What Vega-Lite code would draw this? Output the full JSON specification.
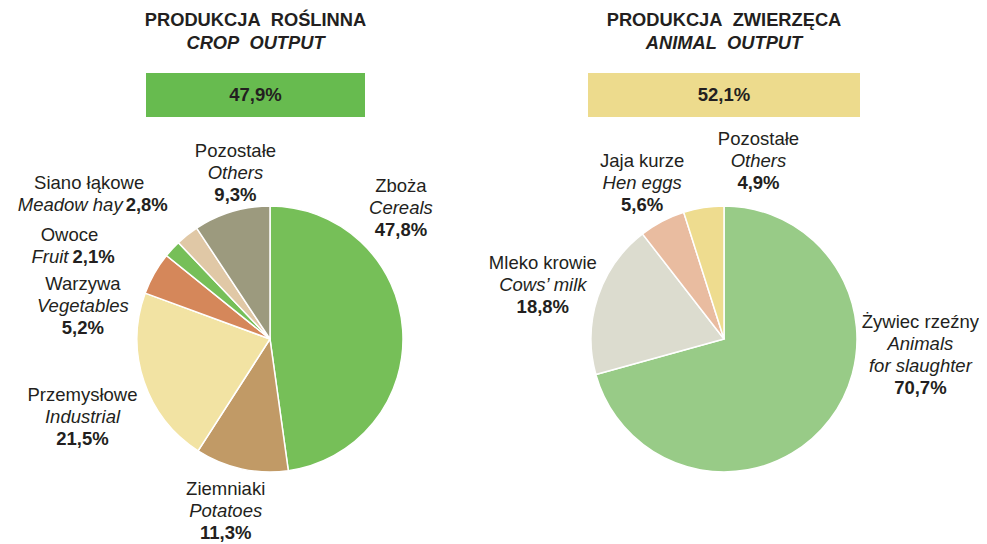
{
  "$schema": "https://vega.github.io/schema/vega-lite/v6.json",
  "padding": {"left": 17, "top": 11, "right": 0, "bottom": 4},
  "config": {
    "font": "Liberation Sans",
    "view": {"stroke": null},
    "text": {"fontSize": 18.5, "color": "#231f20"},
    "title": {"fontSize": 18.3, "fontWeight": "bold", "color": "#231f20", "font": "Liberation Sans", "subtitleFont": "Liberation Sans", "subtitleFontSize": 18.3, "subtitleFontStyle": "italic", "subtitleFontWeight": "bold", "subtitleColor": "#231f20", "subtitlePadding": 4, "anchor": "middle", "offset": 20}
  },
  "spacing": 442,
  "bounds": "flush",
  "resolve": {"scale": {"color": "independent", "theta": "independent"}},
  "hconcat": [
    {
      "spacing": 20,
      "bounds": "flush",
      "resolve": {"scale": {"color": "independent", "theta": "independent"}},
      "vconcat": [
        {
          "width": 219, "height": 44,
          "title": {"text": "PRODUKCJA\u00a0 ROŚLINNA", "subtitle": "CROP\u00a0 OUTPUT"},
          "data": {"values": [{"share": "47,9%"}]},
          "layer": [
            {"mark": {"type": "rect", "color": "#67bb4f"}, "encoding": {}},
            {"mark": {"type": "text", "fontWeight": "bold", "fontSize": 18.5}, "encoding": {"text": {"field": "share", "type": "nominal"}}}
          ]
        },
        {
          "width": 248, "height": 404,
          "data": {"values": [
            {"ord": 1, "pl": "Zboża", "en": "Cereals", "pct": "47,8%", "value": 47.8},
            {"ord": 2, "pl": "Ziemniaki", "en": "Potatoes", "pct": "11,3%", "value": 11.3},
            {"ord": 3, "pl": "Przemysłowe", "en": "Industrial", "pct": "21,5%", "value": 21.5},
            {"ord": 4, "pl": "Warzywa", "en": "Vegetables", "pct": "5,2%", "value": 5.2},
            {"ord": 5, "pl": "Owoce", "en": "Fruit", "pct": "2,1%", "value": 2.1},
            {"ord": 6, "pl": "Siano łąkowe", "en": "Meadow hay", "pct": "2,8%", "value": 2.8},
            {"ord": 7, "pl": "Pozostałe", "en": "Others", "pct": "9,3%", "value": 9.3}
          ]},
          "resolve": {"scale": {"theta": "independent"}},
          "layer": [
            {
              "mark": {"type": "arc", "outerRadius": 133, "stroke": "#ffffff", "strokeWidth": 1.5},
              "encoding": {
                "theta": {"field": "value", "type": "quantitative", "stack": true},
                "order": {"field": "ord", "type": "quantitative"},
                "color": {"field": "pl", "type": "nominal", "legend": null,
                  "scale": {"domain": ["Zboża", "Ziemniaki", "Przemysłowe", "Warzywa", "Owoce", "Siano łąkowe", "Pozostałe"],
                            "range": ["#76bf58", "#c19a66", "#f2e3a3", "#d5875a", "#76bf58", "#e0c8a6", "#9c9a7e"]}}
              }
            },
            {
              "encoding": {"theta": {"field": "value", "type": "quantitative", "stack": true, "scale": {"range": [-0.7156, 5.5676]}}, "order": {"field": "ord", "type": "quantitative"}},
              "layer": [
                {"mark": {"type": "text", "radius": 185, "dy": -22}, "encoding": {"text": {"condition": {"test": "datum.pl === 'Zboża'", "field": "pl", "type": "nominal"}, "value": ""}}},
                {"mark": {"type": "text", "radius": 185, "fontStyle": "italic"}, "encoding": {"text": {"condition": {"test": "datum.pl === 'Zboża'", "field": "en", "type": "nominal"}, "value": ""}}},
                {"mark": {"type": "text", "radius": 185, "dy": 22, "fontWeight": "bold"}, "encoding": {"text": {"condition": {"test": "datum.pl === 'Zboża'", "field": "pct", "type": "nominal"}, "value": ""}}}
              ]
            },
            {
              "encoding": {"theta": {"field": "value", "type": "quantitative", "stack": true, "scale": {"range": [0.0349, 6.3181]}}, "order": {"field": "ord", "type": "quantitative"}},
              "layer": [
                {"mark": {"type": "text", "radius": 178, "dy": -22}, "encoding": {"text": {"condition": {"test": "datum.pl === 'Ziemniaki'", "field": "pl", "type": "nominal"}, "value": ""}}},
                {"mark": {"type": "text", "radius": 178, "fontStyle": "italic"}, "encoding": {"text": {"condition": {"test": "datum.pl === 'Ziemniaki'", "field": "en", "type": "nominal"}, "value": ""}}},
                {"mark": {"type": "text", "radius": 178, "dy": 22, "fontWeight": "bold"}, "encoding": {"text": {"condition": {"test": "datum.pl === 'Ziemniaki'", "field": "pct", "type": "nominal"}, "value": ""}}}
              ]
            },
            {
              "encoding": {"theta": {"field": "value", "type": "quantitative", "stack": true, "scale": {"range": [0.0873, 6.3705]}}, "order": {"field": "ord", "type": "quantitative"}},
              "layer": [
                {"mark": {"type": "text", "radius": 170, "dy": -22}, "encoding": {"text": {"condition": {"test": "datum.pl === 'Pozostałe'", "field": "pl", "type": "nominal"}, "value": ""}}},
                {"mark": {"type": "text", "radius": 170, "fontStyle": "italic"}, "encoding": {"text": {"condition": {"test": "datum.pl === 'Pozostałe'", "field": "en", "type": "nominal"}, "value": ""}}},
                {"mark": {"type": "text", "radius": 170, "dy": 22, "fontWeight": "bold"}, "encoding": {"text": {"condition": {"test": "datum.pl === 'Pozostałe'", "field": "pct", "type": "nominal"}, "value": ""}}}
              ]
            },
            {
              "encoding": {"theta": {"field": "value", "type": "quantitative", "stack": true, "scale": {"range": [-0.0698, 6.2134]}}, "order": {"field": "ord", "type": "quantitative"}},
              "layer": [
                {"mark": {"type": "text", "radius": 203, "dy": -22}, "encoding": {"text": {"condition": {"test": "datum.pl === 'Przemysłowe'", "field": "pl", "type": "nominal"}, "value": ""}}},
                {"mark": {"type": "text", "radius": 203, "fontStyle": "italic"}, "encoding": {"text": {"condition": {"test": "datum.pl === 'Przemysłowe'", "field": "en", "type": "nominal"}, "value": ""}}},
                {"mark": {"type": "text", "radius": 203, "dy": 22, "fontWeight": "bold"}, "encoding": {"text": {"condition": {"test": "datum.pl === 'Przemysłowe'", "field": "pct", "type": "nominal"}, "value": ""}}}
              ]
            },
            {
              "encoding": {"theta": {"field": "value", "type": "quantitative", "stack": true, "scale": {"range": [-0.3403, 5.9429]}}, "order": {"field": "ord", "type": "quantitative"}},
              "layer": [
                {"mark": {"type": "text", "radius": 190, "dy": -22}, "encoding": {"text": {"condition": {"test": "datum.pl === 'Warzywa'", "field": "pl", "type": "nominal"}, "value": ""}}},
                {"mark": {"type": "text", "radius": 190, "fontStyle": "italic"}, "encoding": {"text": {"condition": {"test": "datum.pl === 'Warzywa'", "field": "en", "type": "nominal"}, "value": ""}}},
                {"mark": {"type": "text", "radius": 190, "dy": 22, "fontWeight": "bold"}, "encoding": {"text": {"condition": {"test": "datum.pl === 'Warzywa'", "field": "pct", "type": "nominal"}, "value": ""}}}
              ]
            },
            {
              "encoding": {"theta": {"field": "value", "type": "quantitative", "stack": true, "scale": {"range": [-0.3107, 5.9725]}}, "order": {"field": "ord", "type": "quantitative"}},
              "layer": [
                {"mark": {"type": "text", "radius": 221, "dy": -11}, "encoding": {"text": {"condition": {"test": "datum.pl === 'Owoce'", "field": "pl", "type": "nominal"}, "value": ""}}},
                {"mark": {"type": "text", "radius": 221, "dy": 11, "dx": -1, "align": "right", "fontStyle": "italic"}, "encoding": {"text": {"condition": {"test": "datum.pl === 'Owoce'", "field": "en", "type": "nominal"}, "value": ""}}},
                {"mark": {"type": "text", "radius": 221, "dy": 11, "dx": 3, "align": "left", "fontWeight": "bold"}, "encoding": {"text": {"condition": {"test": "datum.pl === 'Owoce'", "field": "pct", "type": "nominal"}, "value": ""}}}
              ]
            },
            {
              "encoding": {"theta": {"field": "value", "type": "quantitative", "stack": true, "scale": {"range": [-0.2217, 6.0615]}}, "order": {"field": "ord", "type": "quantitative"}},
              "layer": [
                {"mark": {"type": "text", "radius": 232, "dy": -11}, "encoding": {"text": {"condition": {"test": "datum.pl === 'Siano łąkowe'", "field": "pl", "type": "nominal"}, "value": ""}}},
                {"mark": {"type": "text", "radius": 232, "dy": 11, "dx": 33.5, "align": "right", "fontStyle": "italic"}, "encoding": {"text": {"condition": {"test": "datum.pl === 'Siano łąkowe'", "field": "en", "type": "nominal"}, "value": ""}}},
                {"mark": {"type": "text", "radius": 232, "dy": 11, "dx": 36.5, "align": "left", "fontWeight": "bold"}, "encoding": {"text": {"condition": {"test": "datum.pl === 'Siano łąkowe'", "field": "pct", "type": "nominal"}, "value": ""}}}
              ]
            }
          ]
        }
      ]
    },
    {
      "spacing": 20,
      "bounds": "flush",
      "resolve": {"scale": {"color": "independent", "theta": "independent"}},
      "vconcat": [
        {
          "width": 272, "height": 44,
          "title": {"text": "PRODUKCJA\u00a0 ZWIERZĘCA", "subtitle": "ANIMAL\u00a0 OUTPUT"},
          "data": {"values": [{"share": "52,1%"}]},
          "layer": [
            {"mark": {"type": "rect", "color": "#eddb8d"}, "encoding": {}},
            {"mark": {"type": "text", "fontWeight": "bold", "fontSize": 18.5}, "encoding": {"text": {"field": "share", "type": "nominal"}}}
          ]
        },
        {
          "width": 272, "height": 404,
          "data": {"values": [
            {"ord": 1, "pl": "Żywiec rzeźny", "en": "Animals", "en2": "for slaughter", "pct": "70,7%", "value": 70.7},
            {"ord": 2, "pl": "Mleko krowie", "en": "Cows’ milk", "en2": "", "pct": "18,8%", "value": 18.8},
            {"ord": 3, "pl": "Jaja kurze", "en": "Hen eggs", "en2": "", "pct": "5,6%", "value": 5.6},
            {"ord": 4, "pl": "Pozostałe", "en": "Others", "en2": "", "pct": "4,9%", "value": 4.9}
          ]},
          "resolve": {"scale": {"theta": "independent"}},
          "layer": [
            {
              "mark": {"type": "arc", "outerRadius": 133, "stroke": "#ffffff", "strokeWidth": 1.5},
              "encoding": {
                "theta": {"field": "value", "type": "quantitative", "stack": true},
                "order": {"field": "ord", "type": "quantitative"},
                "color": {"field": "pl", "type": "nominal", "legend": null,
                  "scale": {"domain": ["Żywiec rzeźny", "Mleko krowie", "Jaja kurze", "Pozostałe"],
                            "range": ["#98cb87", "#dcdccf", "#e9bca0", "#eedc8f"]}}
              }
            },
            {
              "encoding": {"theta": {"field": "value", "type": "quantitative", "stack": true, "scale": {"range": [-0.5707, 5.7125]}}, "order": {"field": "ord", "type": "quantitative"}},
              "layer": [
                {"mark": {"type": "text", "radius": 197, "dy": -33}, "encoding": {"text": {"condition": {"test": "datum.pl === 'Żywiec rzeźny'", "field": "pl", "type": "nominal"}, "value": ""}}},
                {"mark": {"type": "text", "radius": 197, "dy": -11, "fontStyle": "italic"}, "encoding": {"text": {"condition": {"test": "datum.pl === 'Żywiec rzeźny'", "field": "en", "type": "nominal"}, "value": ""}}},
                {"mark": {"type": "text", "radius": 197, "dy": 11, "fontStyle": "italic"}, "encoding": {"text": {"condition": {"test": "datum.pl === 'Żywiec rzeźny'", "field": "en2", "type": "nominal"}, "value": ""}}},
                {"mark": {"type": "text", "radius": 197, "dy": 33, "fontWeight": "bold"}, "encoding": {"text": {"condition": {"test": "datum.pl === 'Żywiec rzeźny'", "field": "pct", "type": "nominal"}, "value": ""}}}
              ]
            },
            {
              "encoding": {"theta": {"field": "value", "type": "quantitative", "stack": true, "scale": {"range": [-0.0314, 6.2518]}}, "order": {"field": "ord", "type": "quantitative"}},
              "layer": [
                {"mark": {"type": "text", "radius": 189, "dy": -22}, "encoding": {"text": {"condition": {"test": "datum.pl === 'Mleko krowie'", "field": "pl", "type": "nominal"}, "value": ""}}},
                {"mark": {"type": "text", "radius": 189, "fontStyle": "italic"}, "encoding": {"text": {"condition": {"test": "datum.pl === 'Mleko krowie'", "field": "en", "type": "nominal"}, "value": ""}}},
                {"mark": {"type": "text", "radius": 189, "dy": 22, "fontWeight": "bold"}, "encoding": {"text": {"condition": {"test": "datum.pl === 'Mleko krowie'", "field": "pct", "type": "nominal"}, "value": ""}}}
              ]
            },
            {
              "encoding": {"theta": {"field": "value", "type": "quantitative", "stack": true, "scale": {"range": [0, 6.2832]}}, "order": {"field": "ord", "type": "quantitative"}},
              "layer": [
                {"mark": {"type": "text", "radius": 176, "dy": -22}, "encoding": {"text": {"condition": {"test": "datum.pl === 'Jaja kurze'", "field": "pl", "type": "nominal"}, "value": ""}}},
                {"mark": {"type": "text", "radius": 176, "fontStyle": "italic"}, "encoding": {"text": {"condition": {"test": "datum.pl === 'Jaja kurze'", "field": "en", "type": "nominal"}, "value": ""}}},
                {"mark": {"type": "text", "radius": 176, "dy": 22, "fontWeight": "bold"}, "encoding": {"text": {"condition": {"test": "datum.pl === 'Jaja kurze'", "field": "pct", "type": "nominal"}, "value": ""}}}
              ]
            },
            {
              "encoding": {"theta": {"field": "value", "type": "quantitative", "stack": true, "scale": {"range": [0.3456, 6.6288]}}, "order": {"field": "ord", "type": "quantitative"}},
              "layer": [
                {"mark": {"type": "text", "radius": 181, "dy": -22}, "encoding": {"text": {"condition": {"test": "datum.pl === 'Pozostałe'", "field": "pl", "type": "nominal"}, "value": ""}}},
                {"mark": {"type": "text", "radius": 181, "fontStyle": "italic"}, "encoding": {"text": {"condition": {"test": "datum.pl === 'Pozostałe'", "field": "en", "type": "nominal"}, "value": ""}}},
                {"mark": {"type": "text", "radius": 181, "dy": 22, "fontWeight": "bold"}, "encoding": {"text": {"condition": {"test": "datum.pl === 'Pozostałe'", "field": "pct", "type": "nominal"}, "value": ""}}}
              ]
            }
          ]
        }
      ]
    }
  ]
}
